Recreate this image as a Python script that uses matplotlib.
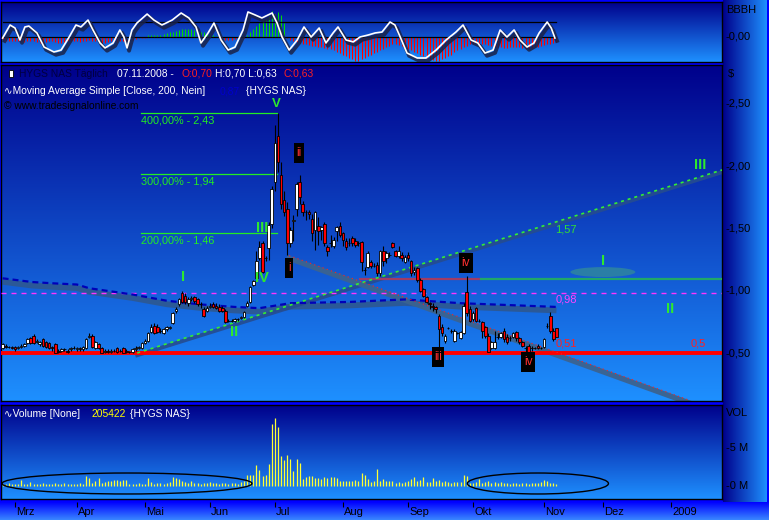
import numpy as np
import pandas as pd
import matplotlib
matplotlib.use("Agg")
import matplotlib.pyplot as plt
import matplotlib.patheffects as pe
import matplotlib.transforms as mtransforms
from matplotlib.patches import Ellipse, Rectangle
from matplotlib.colors import LinearSegmentedColormap

plt.rcParams["font.family"] = ["Liberation Sans", "DejaVu Sans"]
plt.rcParams["lines.scale_dashes"] = False

# trading calendar, HYGS on NASDAQ
holidays = ["2008-03-21", "2008-05-26", "2008-07-04", "2008-09-01",
            "2008-11-27", "2008-12-25", "2009-01-01"]
days = pd.bdate_range("2008-02-26", "2009-01-30", freq="C", holidays=holidays)
month_names = ["Mrz", "Apr", "Mai", "Jun", "Jul", "Aug", "Sep", "Okt", "Nov", "Dez", "2009"]

# daily candles 26.02.2008 - 07.11.2008
opens = [.54, .56, .55, .55, .55, .54, .55, .56, .58, .62,
         .64, .59, .57, .61, .59, .58, .55, .57, .52, .52,
         .53, .52, .53, .54, .53, .54, .53, .54, .63, .64,
         .54, .57, .54, .51, .52, .51, .52, .54, .52, .54,
         .52, .51, .51, .53, .54, .54, .58, .60, .67, .72,
         .71, .68, .66, .69, .70, .74, .84, .89, .98, .96,
         .90, .93, .95, .93, .89, .85, .84, .87, .89, .88,
         .87, .86, .84, .76, .76, .76, .77, .78, .79, .88,
         .91, 1.05, 1.10, 1.26, 1.38, 1.26, 1.34, 1.54, 1.87, 2.24,
         1.93, 1.73, 1.66, 1.38, 1.56, 1.66, 1.87, 1.70, 1.63, 1.63,
         1.58, 1.49, 1.52, 1.49, 1.54, 1.35, 1.38, 1.36, 1.48, 1.52,
         1.46, 1.40, 1.38, 1.42, 1.40, 1.38, 1.39, 1.17, 1.19, 1.23,
         1.20, 1.21, 1.14, 1.32, 1.26, 1.29, 1.38, 1.32, 1.28, 1.29,
         1.23, 1.29, 1.24, 1.15, 1.18, 1.09, 1.01, .95, .90, .88,
         .87, .80, .71, .60, .70, .68, .60, .66, .62, .66,
         .99, .85, .77, .86, .76, .75, .71, .64, .54, .54,
         .63, .63, .68, .63, .62, .63, .67, .62, .59, .54,
         .56, .54, .54, .56, .54, .55, .72, .80, .68, .70]
closes = [.57, .55, .55, .54, .53, .55, .56, .57, .61, .58,
          .58, .60, .59, .56, .55, .54, .54, .50, .51, .53,
          .53, .51, .54, .54, .54, .53, .55, .61, .64, .55,
          .59, .54, .50, .52, .51, .52, .52, .51, .52, .50,
          .51, .51, .53, .54, .55, .58, .60, .66, .71, .66,
          .67, .68, .69, .71, .71, .82, .85, .93, .91, .91,
          .93, .94, .92, .89, .89, .80, .86, .88, .87, .86,
          .84, .84, .75, .76, .76, .77, .77, .79, .83, .90,
          1.03, 1.08, 1.24, 1.35, 1.15, 1.26, 1.53, 1.82, 2.19, 2.03,
          1.70, 1.63, 1.38, 1.49, 1.57, 1.86, 1.75, 1.63, 1.63, 1.62,
          1.46, 1.63, 1.48, 1.51, 1.38, 1.32, 1.38, 1.41, 1.51, 1.45,
          1.41, 1.35, 1.38, 1.38, 1.37, 1.38, 1.23, 1.17, 1.30, 1.20,
          1.20, 1.14, 1.32, 1.24, 1.30, 1.29, 1.35, 1.28, 1.32, 1.26,
          1.27, 1.26, 1.14, 1.17, 1.09, 1.00, .96, .91, .89, .87,
          .85, .69, .66, .64, .70, .68, .68, .66, .67, .88,
          .82, .76, .82, .76, .76, .68, .64, .51, .59, .59,
          .63, .66, .61, .59, .62, .66, .62, .59, .56, .54,
          .51, .54, .54, .54, .54, .61, .72, .68, .61, .63]
highs = [.58, .57, .56, .56, .56, .56, .57, .58, .62, .63,
         .65, .61, .60, .62, .60, .59, .56, .58, .53, .54,
         .54, .53, .55, .56, .55, .55, .56, .62, .66, .65,
         .60, .58, .55, .53, .53, .53, .53, .55, .53, .55,
         .53, .52, .54, .56, .56, .59, .61, .67, .73, .74,
         .73, .70, .70, .72, .72, .83, .87, .94, 1.00, .98,
         .95, .96, .96, .94, .91, .87, .88, .90, .91, .90,
         .89, .88, .85, .77, .77, .78, .78, .80, .84, .92,
         1.04, 1.09, 1.32, 1.40, 1.40, 1.28, 1.55, 1.84, 2.33, 2.43,
         2.03, 1.80, 1.71, 1.51, 1.61, 1.87, 1.93, 1.72, 1.65, 1.65,
         1.62, 1.64, 1.59, 1.52, 1.55, 1.37, 1.45, 1.43, 1.52, 1.55,
         1.47, 1.42, 1.42, 1.44, 1.42, 1.40, 1.40, 1.19, 1.32, 1.25,
         1.22, 1.23, 1.33, 1.36, 1.32, 1.31, 1.39, 1.33, 1.36, 1.31,
         1.29, 1.31, 1.25, 1.19, 1.19, 1.10, 1.02, .96, .91, .90,
         .88, .81, .73, .65, .71, .69, .69, .67, .68, .90,
         1.12, .88, .84, .87, .77, .76, .72, .66, .60, .68,
         .66, .67, .70, .65, .64, .67, .68, .63, .60, .56,
         .57, .56, .55, .57, .55, .62, .74, .83, .70, .70]
lows = [.53, .54, .54, .53, .52, .53, .54, .55, .57, .57,
        .57, .58, .56, .55, .54, .53, .52, .50, .50, .51,
        .52, .50, .52, .53, .52, .52, .52, .53, .62, .54,
        .53, .53, .50, .50, .50, .50, .51, .50, .51, .50,
        .50, .50, .50, .52, .53, .53, .57, .59, .66, .65,
        .66, .66, .65, .68, .69, .73, .82, .88, .90, .89,
        .88, .92, .90, .88, .86, .79, .83, .86, .86, .85,
        .83, .83, .74, .75, .75, .75, .76, .77, .78, .87,
        .90, 1.04, 1.08, 1.25, 1.14, 1.24, 1.25, 1.50, 1.80, 1.95,
        1.66, 1.60, 1.29, 1.35, 1.40, 1.60, 1.70, 1.60, 1.57, 1.58,
        1.40, 1.33, 1.37, 1.41, 1.36, 1.28, 1.35, 1.34, 1.40, 1.43,
        1.36, 1.33, 1.36, 1.36, 1.35, 1.36, 1.16, 1.13, 1.18, 1.18,
        1.19, 1.12, 1.12, 1.20, 1.22, 1.27, 1.34, 1.27, 1.26, 1.24,
        1.22, 1.24, 1.12, 1.13, 1.07, .99, .95, .90, .85, .84,
        .82, .55, .64, .58, .69, .66, .59, .65, .61, .65,
        .80, .75, .76, .75, .75, .62, .62, .51, .53, .53,
        .61, .62, .59, .57, .60, .62, .60, .57, .55, .51,
        .50, .52, .53, .53, .53, .54, .70, .66, .60, .63]

# volume in millions
volume = [0.3, 0.25, 0.35, 0.2, 0.3, 0.25, 0.8, 0.3, 0.25, 0.55,
          0.3, 0.25, 0.3, 0.35, 0.3, 0.25, 0.3, 0.4, 0.3, 0.25,
          0.35, 0.3, 0.2, 0.25, 0.3, 0.35, 0.3, 1.3, 1.0, 0.35,
          0.6, 1.0, 0.4, 0.5, 0.6, 0.7, 0.8, 0.8, 0.6, 0.75,
          0.8, 0.3, 0.25, 0.3, 0.35, 0.3, 0.3,
          1.0, 0.5, 0.3, 0.4, 0.35, 0.3, 0.4, 0.5, 1.15, 1.1,
          0.9, 0.6, 0.5, 0.4, 0.6, 0.35, 0.45, 0.3, 0.4, 0.35,
          0.5, 0.4, 0.35, 0.3, 0.4, 0.45, 0.3, 0.35, 0.4, 0.3,
          0.5, 0.6,
          1.45, 1.45, 1.4, 2.8, 2.1, 1.3, 1.5, 2.9, 8.2, 8.9,
          7.8, 3.9, 3.4, 4.1, 3.6, 2.0, 3.5, 3.0, 0.9, 1.2,
          1.3, 1.3, 1.0, 1.1, 0.9, 1.2, 1.0,
          1.2, 1.2, 1.0, 0.7, 0.65, 0.65, 0.7, 0.65, 0.8, 0.7,
          1.75, 1.45, 0.9, 0.55, 0.6, 2.3, 0.7, 0.9, 0.65, 0.6,
          0.65, 0.45, 0.5, 0.45, 0.55,
          0.6, 0.9, 1.15, 0.6, 0.8, 1.15, 0.5, 0.55, 1.1, 0.6,
          0.8, 0.55, 0.6, 0.55, 0.45, 0.5, 0.55, 0.5, 1.45, 1.3,
          0.45,
          0.4, 0.5, 0.9, 0.45, 0.5, 0.65, 0.4, 0.55, 0.45, 0.5,
          0.35, 0.4, 0.3, 0.35, 0.4, 0.3, 0.45, 0.35, 0.3, 0.4,
          0.35, 0.45, 0.5, 0.8, 0.6, 0.4, 0.35, 0.3]

# oscillator (top pane): histogram per bar and the signal line read at turning points
osc_hist = [-0.2, -0.25, -0.3, -0.3, -0.25, -0.3, -0.3, -0.35, -0.3, -0.25,
            -0.3, -0.35, -0.4, -0.4, -0.35, -0.3, -0.3, -0.35, -0.4, -0.4,
            -0.35, -0.3, -0.3, -0.25, -0.3, -0.35, -0.3, -0.25, -0.2, -0.25,
            -0.3, -0.35, -0.4, -0.4, -0.35, -0.3, -0.3, -0.35, -0.3, -0.25,
            -0.3, -0.25, -0.2, -0.15, -0.1, -0.1, -0.05,
            0.1, 0.1, 0.1, 0.15, 0.15, 0.2, 0.25, 0.3, 0.35, 0.4,
            0.45, 0.5, 0.55, 0.55, 0.5, 0.45, 0.4, 0.35, 0.3, 0.2,
            0.15, 0.1, 0.05,
            -0.1, -0.15, -0.2, -0.2, -0.2, -0.15, -0.15, -0.1, -0.05,
            0.15, 0.3, 0.55, 0.75, 0.95, 1.1, 1.2, 1.4, 1.75, 1.55,
            1.65, 1.45, 0.9,
            -0.1, -0.2, -0.3, -0.35, -0.4, -0.45, -0.5, -0.55, -0.6, -0.6,
            -0.65, -0.7, -0.75, -0.8, -0.8,
            -0.9, -1.0, -1.1, -1.2, -1.3, -1.4, -1.5, -1.6, -1.6, -1.5,
            -1.4, -1.3, -1.2, -1.1, -1.0, -0.9, -0.8, -0.7,
            -0.6, -0.5, -0.5, -0.55, -0.6, -0.7, -0.8,
            -0.9, -1.0, -1.1, -1.2, -1.3, -1.4, -1.5, -1.55, -1.6, -1.6,
            -1.5, -1.4, -1.3, -1.2, -1.0, -0.9, -0.8, -0.7,
            -0.6, -0.5, -0.45, -0.4, -0.4, -0.45, -0.5, -0.55, -0.6, -0.65,
            -0.7, -0.7, -0.75, -0.75, -0.7, -0.7, -0.65, -0.7, -0.75, -0.8,
            -0.8, -0.75, -0.7, -0.65, -0.6, -0.55, -0.5, -0.45, -0.4, -0.35]
osc_x = [0, 2.4, 4, 5.6, 7.2, 8.5, 11.1, 13.4, 16.6, 18.9, 21.5, 23.7, 25.3, 27.6, 29.2,
         31.5, 33.1, 35.7, 37.9, 39.2, 40.2, 41.8, 43.4, 46.7, 48.9, 51.5, 54.8, 57.7,
         60.2, 62.5, 64.1, 66.4, 68.3, 70.6, 72.9, 75.1, 77.7, 79.3, 81.6, 83.8, 87.1,
         88.7, 90.3, 92.6, 95.2, 97.4, 99.7, 102.3, 104.5, 106.8, 108.4, 111.0, 113.3,
         115.5, 118.1, 120.4, 122.6, 125.2, 126.8, 128.5, 130.7, 134.0, 136.8, 140.1,
         143.3, 146.5, 148.8, 151.4, 153.6, 155.9, 158.5, 160.8, 163.0, 165.3, 167.2,
         169.5, 171.7, 173.4, 176.0, 177.3, 178.5]
osc_y = [-0.07, 0.8, 0.6, -0.2, 0.67, 0.73, 0.27, -0.67, -1.0, -0.87, 0.0, 0.8, 0.67, 1.13, 0.47,
         -0.4, -0.73, -0.4, 0.47, 0.0, -0.73, 0.47, 0.93, 1.53, 1.13, 0.8, 1.13, 1.6,
         1.27, 0.67, -0.4, 0.27, 0.93, -0.2, -0.87, -0.67, 0.47, 1.67, 1.47, 1.27, 1.6,
         0.93, 0.0, -0.87, -0.2, 0.67, 0.0, 0.6, -0.4, 0.27, 0.67, -0.2, -0.33,
         0.0, 0.13, 0.27, 0.33, 1.0, 0.8, 0.0, -1.07, -1.4, -1.4, -0.87,
         -0.2, 0.33, 0.8, -0.2, -0.4, -1.07, -0.87, 0.47, 0.0, 0.47, -0.2,
         -0.67, -0.4, 0.27, 1.0, 0.6, -0.07]

# 200-day simple moving average, read at knots
ma_x = [0, 9.5, 16, 24, 28, 42, 53, 64, 75, 83, 93, 112, 130, 148, 179]
ma_val = [1.10, 1.07, 1.06, 1.05, 1.02, 0.97, 0.92, 0.89, 0.87, 0.86, 0.90, 0.91, 0.93, 0.90, 0.87]

# analyst drawings
support = 0.50
ma_mark = 0.98
resistance = 1.094
fib_levels = [2.43, 1.94, 1.46]
fib_labels = ["400,00% - 2,43", "300,00% - 1,94", "200,00% - 1,46"]
trend_up_x, trend_up_y = [43.5, 232.5], [0.50, 1.97]
trend_dn_x, trend_dn_y = [92.6, 221.8], [1.28, 0.12]

W, H = 769, 520
fig = plt.figure(figsize=(W / 100, H / 100), dpi=100)
fig.patch.set_facecolor("#0000ff")


def box(x0, y0, x1, y1):
    return [x0 / W, 1 - y1 / H, (x1 - x0) / W, (y1 - y0) / H]


panel_cmap = LinearSegmentedColormap.from_list("panel", ["#00008b", "#1e90ff"])
strip_cmap = LinearSegmentedColormap.from_list("strip", ["#0000ff", "#3a88ff"])


def shade(ax, cmap, horizontal=False):
    g = np.linspace(0, 1, 256)
    img = g[None, :] if horizontal else g[:, None]
    ax.imshow(img, cmap=cmap, aspect="auto", extent=(0, 1, 0, 1),
              transform=ax.transAxes, zorder=0, interpolation="bilinear")


ax_right = fig.add_axes(box(723, 0, 767, 502))
shade(ax_right, panel_cmap, horizontal=True)
ax_right.axis("off")
ax_date = fig.add_axes(box(0, 502, 769, 520))
shade(ax_date, strip_cmap)
ax_date.axis("off")

ax_osc = fig.add_axes(box(1, 2, 722, 62))
ax_px = fig.add_axes(box(1, 65, 722, 401))
ax_vol = fig.add_axes(box(1, 405, 722, 499))
ax_tk = fig.add_axes(box(1, 502, 722, 520))
ax_tk.axis("off")

xlo, xhi = -0.52, 232.5
x = np.arange(len(closes))

# ---- oscillator pane
hist = np.array(osc_hist)
ax_osc.vlines(np.arange(len(hist)), 0, hist, colors=np.where(hist > 0, "#00dd00", "#ff0000").tolist(),
              lw=0.75, zorder=2)
ax_osc.plot([0, x[-1]], [1, 1], color="black", lw=0.9, zorder=3)
ax_osc.plot([0, x[-1]], [0, 0], color="black", lw=0.9, zorder=3)
ax_osc.plot(osc_x, osc_y, color="white", lw=1.2, zorder=4,
            path_effects=[pe.SimpleLineShadow(offset=(1.5, -2), shadow_color="#1a2248", alpha=0.85, linewidth=2.8),
                          pe.Normal()])

# ---- price pane
ax_px.axhline(support, color="#ff0000", lw=2.8, zorder=3)
ax_px.axhline(ma_mark, color="#ff33ff", lw=1.0, dashes=(3.6, 3.6), zorder=3)
ax_px.plot([115.5, 154.6], [resistance, resistance], color="#a03c64", lw=1.6, zorder=3)
ax_px.plot([154.6, xhi], [resistance, resistance], color="#20a868", lw=1.6, zorder=3)

ax_px.plot(ma_x, np.array(ma_val) - 0.028, color="#2e5890", lw=4.2, alpha=0.9, zorder=2,
           solid_capstyle="butt")
ax_px.plot(ma_x, ma_val, color="#0000b8", lw=1.6, dashes=(4.3, 2.9), zorder=3)

ax_px.plot(trend_up_x, np.array(trend_up_y) - 0.018, color="#254c90", lw=2.8, alpha=0.9, zorder=2)
ax_px.plot(trend_up_x, trend_up_y, color="#33ee33", lw=1.2, dashes=(2.2, 2.8), zorder=3)
ax_px.plot(trend_dn_x, np.array(trend_dn_y) - 0.02, color="#3b6390", lw=3.8, alpha=0.95, zorder=2)
ax_px.plot(trend_dn_x, np.array(trend_dn_y) + 0.002, color="#ff2020", lw=0.8, dashes=(0.8, 2.4), zorder=3)

for lvl, lab in zip(fib_levels, fib_labels):
    ax_px.plot([44.7, 88.7], [lvl, lvl], color="#22ee22", lw=0.9, zorder=4)
    ax_px.text(44.7, lvl - 0.02, lab, color="#22ee22", fontsize=7.8, ha="left", va="top", zorder=8)

ax_px.add_patch(Ellipse((194.0, 1.15), 21, 0.08, facecolor="#2a7ea6", edgecolor="none", zorder=3))

o, c, hi, lo = map(np.array, (opens, closes, highs, lows))
ax_px.vlines(x, lo, hi, color="black", lw=0.8, zorder=5)
ax_px.bar(x, c - o, bottom=o, width=0.85, color=np.where(c > o, "white", "#ff0000").tolist(),
          edgecolor="black", linewidth=0.6, zorder=6)

wave_green = [("V", 88.4, 2.50, 9.5), ("III", 83.9, 1.50, 10.5), ("IV", 83.9, 1.10, 10.5),
              ("I", 58.3, 1.11, 10.5), ("II", 74.8, 0.67, 10.5), ("I", 194.0, 1.24, 10.5),
              ("II", 215.7, 0.85, 10.5), ("III", 225.4, 2.01, 10.5)]
for t, wx, wy, fs in wave_green:
    ax_px.text(wx, wy, t, color="#2ee82e", fontsize=fs, fontweight="bold", ha="center", va="center", zorder=9)

wave_boxes = [("i", 91.3, 93.9, 1.102, 1.263), ("ii", 94.2, 97.4, 2.026, 2.187),
              ("iii", 138.8, 142.7, 0.388, 0.548), ("iv", 147.5, 152.0, 1.143, 1.303),
              ("iv", 167.6, 172.1, 0.347, 0.508)]
for t, bx0, bx1, by0, by1 in wave_boxes:
    ax_px.add_patch(Rectangle((bx0, by0), bx1 - bx0, by1 - by0, facecolor="black", edgecolor="none", zorder=8))
    ax_px.text((bx0 + bx1) / 2, (by0 + by1) / 2, t, color="#ff3030", fontsize=8.5, ha="center", va="center", zorder=9)

ax_px.text(178.6, 1.49, "1,57", color="#33dd33", fontsize=8, ha="left", va="center", zorder=9)
ax_px.text(178.6, 0.926, "0,98", color="#ff44ff", fontsize=8, ha="left", va="center", zorder=9)
ax_px.text(178.6, 0.575, "0,51", color="#ff2020", fontsize=8, ha="left", va="center", zorder=9)
ax_px.text(222.2, 0.575, "0,5", color="#ff2020", fontsize=8, ha="left", va="center", zorder=9)

# ---- volume pane
ax_vol.vlines(x, 0, volume, color="#ffff33", lw=0.9, zorder=3)
ax_vol.add_patch(Ellipse((40.2, 0.33), 80.8, 2.76, facecolor="none", edgecolor="black", lw=1.0, zorder=4))
ax_vol.add_patch(Ellipse((173.0, 0.33), 45.6, 2.76, facecolor="none", edgecolor="black", lw=1.0, zorder=4))

for ax in (ax_osc, ax_px, ax_vol):
    shade(ax, panel_cmap)
    ax.set_xticks([])
    ax.set_yticks([])
    for s in ax.spines.values():
        s.set_color("black")
        s.set_linewidth(1.0)
for ax in (ax_osc, ax_px, ax_vol, ax_tk):
    ax.set_xlim(xlo, xhi)
ax_osc.set_ylim(-1.667, 2.333)
ax_px.set_ylim(0.1145, 2.813)
ax_vol.set_ylim(-1.71, 10.66)

# ---- right-hand scales
lab_x = (726 - 1) / 721
tr_px = mtransforms.blended_transform_factory(ax_px.transAxes, ax_px.transData)
for v in [2.5, 2.0, 1.5, 1.0, 0.5]:
    ax_px.text(lab_x, v, "-" + f"{v:.2f}".replace(".", ","), transform=tr_px, fontsize=8,
               ha="left", va="center", clip_on=False)
ax_px.text(lab_x + 0.003, (401 - 74) / 336, "$", transform=ax_px.transAxes, fontsize=8,
           ha="left", va="center", clip_on=False)
tr_osc = mtransforms.blended_transform_factory(ax_osc.transAxes, ax_osc.transData)
ax_osc.text(lab_x, 1.8, "BBBH", transform=tr_osc, fontsize=8, ha="left", va="center", clip_on=False)
ax_osc.text(lab_x, 0.0, "-0,00", transform=tr_osc, fontsize=8, ha="left", va="center", clip_on=False)
tr_vol = mtransforms.blended_transform_factory(ax_vol.transAxes, ax_vol.transData)
ax_vol.text(lab_x, 9.6, "VOL", transform=tr_vol, fontsize=8, ha="left", va="center", clip_on=False)
for v in [5, 0]:
    ax_vol.text(lab_x, v, f"-{v} M", transform=tr_vol, fontsize=8, ha="left", va="center", clip_on=False)

# ---- date axis
month_start = [i for i in np.flatnonzero(days.month != np.roll(days.month, 1)) if i > 0][:len(month_names)]
tr_tk = mtransforms.blended_transform_factory(ax_tk.transData, ax_tk.transAxes)
ax_tk.vlines(month_start, 0.72, 1.0, color="black", lw=0.8, transform=tr_tk)
for pos, name in zip(month_start, month_names):
    ax_tk.text(pos + 0.4, 0.42, name, fontsize=8, ha="left", va="center", transform=tr_tk)

# ---- header lines


def hdr(px, py, s, color, size=7.4):
    fig.text(px / W, 1 - py / H, s, color=color, fontsize=size, ha="left", va="center", zorder=10)


ax_px.add_patch(Rectangle(((8.5 - 1) / 721, (401 - 77) / 336), 4 / 721, 7 / 336, transform=ax_px.transAxes,
                          facecolor="white", edgecolor="black", lw=0.6, zorder=10, clip_on=False))
hdr(19, 74, "HYGS NAS Täglich", "#000040")
hdr(117, 74, days[len(closes) - 1].strftime("%d.%m.%Y") + " -", "white")
hdr(181, 74, f"O:{opens[-1]:.2f}".replace(".", ","), "#ff2020")
hdr(215, 74, f"H:{highs[-1]:.2f} L:{lows[-1]:.2f}".replace(".", ","), "white")
hdr(283, 74, f"C:{closes[-1]:.2f}".replace(".", ","), "#ff2020")
hdr(4, 91, "∿Moving Average Simple [Close, 200, Nein]", "white")
hdr(220, 91, f"{ma_val[-1]:.2f}".replace(".", ","), "#0000cc")
hdr(246, 91, "{HYGS NAS}", "white")
hdr(4, 106, "© www.tradesignalonline.com", "black")
hdr(4, 414, "∿Volume [None]", "white")
hdr(92, 414, "205422", "#ffff00")
hdr(130, 414, "{HYGS NAS}", "white")

fig.savefig("out.png", dpi=100, facecolor=fig.get_facecolor())
